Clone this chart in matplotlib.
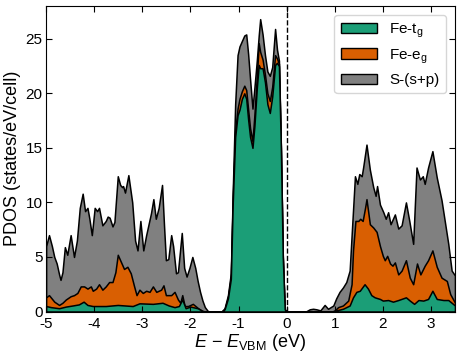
import matplotlib
matplotlib.use("Agg")
from matplotlib import pyplot as plt
from matplotlib.patches import Patch

# fonts
plt.rcParams['font.family'] = ['Liberation Sans', 'DejaVu Sans']
plt.rcParams['mathtext.fontset'] = 'custom'
plt.rcParams['mathtext.rm'] = 'Liberation Sans'
plt.rcParams['mathtext.it'] = 'Liberation Sans:italic'
plt.rcParams['axes.unicode_minus'] = False

# stacked PDOS (cumulative tops)
# S-(s+p) top = total
e_total = [-5.0, -4.94, -4.88, -4.83, -4.78, -4.73, -4.70, -4.66, -4.61, -4.56, -4.49, -4.42,
           -4.36, -4.30, -4.24, -4.19, -4.14, -4.10, -4.05, -3.99, -3.94, -3.90, -3.83, -3.76,
           -3.72, -3.68, -3.62, -3.58, -3.51, -3.46, -3.42, -3.40, -3.36, -3.29, -3.21, -3.15,
           -3.10, -3.04, -2.98, -2.92, -2.87, -2.82, -2.77, -2.72, -2.66, -2.59, -2.55, -2.51,
           -2.46, -2.40, -2.36, -2.30, -2.26, -2.18, -2.13, -2.08, -2.02, -1.96, -1.90, -1.85,
           -1.80, -1.75, -1.70, -1.64, -1.60,
           -1.35, -1.29, -1.22, -1.16, -1.12, -1.07, -1.02, -0.98, -0.93, -0.88, -0.84, -0.80,
           -0.76, -0.71, -0.67, -0.62, -0.58, -0.55, -0.50, -0.45, -0.40, -0.35, -0.30, -0.24,
           -0.20, -0.16, -0.12, -0.08, -0.04, 0.0,
           0.40, 0.48, 0.55, 0.62, 0.70, 0.79, 0.86, 0.97, 1.03, 1.10, 1.17, 1.24, 1.31, 1.36,
           1.42, 1.47, 1.51, 1.56, 1.59, 1.66, 1.73, 1.80, 1.85, 1.88, 1.94, 2.01, 2.06, 2.11,
           2.16, 2.25, 2.32, 2.39, 2.48, 2.55, 2.63, 2.70, 2.77, 2.83, 2.87, 2.94, 3.03, 3.12,
           3.22, 3.29, 3.36, 3.43, 3.50]
total = [6.0, 7.0, 6.0, 5.0, 4.4, 3.4, 2.9, 3.6, 5.9, 5.2, 7.0, 5.0,
         6.5, 9.5, 10.8, 9.2, 9.5, 8.5, 7.0, 9.5, 9.2, 9.5, 7.9, 8.3,
         8.7, 8.6, 7.8, 8.2, 12.4, 11.6, 11.4, 11.5, 10.9, 12.5, 10.0, 6.5,
         5.6, 8.3, 5.6, 7.0, 8.0, 9.0, 10.3, 8.5, 9.5, 11.6, 8.0, 4.7,
         4.8, 7.0, 6.0, 3.5, 3.6, 7.2, 4.0, 3.2, 4.0, 5.0, 4.0, 2.8,
         1.8, 1.0, 0.4, 0.05, 0.0,
         0.0, 0.3, 1.5, 3.5, 11.0, 19.0, 23.5, 24.3, 24.8, 25.3, 25.4, 23.6,
         21.3, 18.6, 20.5, 23.0, 25.3, 26.8, 25.4, 23.5, 22.0, 21.6, 22.4, 25.9,
         24.0, 23.0, 15.2, 5.1, 0.2, 0.0,
         0.0, 0.2, 0.25, 0.2, 0.1, 0.6, 0.25, 0.55, 1.2, 1.8, 2.2, 2.7, 3.75, 7.7,
         12.4, 11.7, 12.6, 12.4, 13.2, 15.3, 13.0, 11.4, 10.6, 11.5, 9.8, 9.1, 8.5, 9.1,
         8.0, 8.9, 7.6, 7.9, 10.0, 8.3, 6.2, 13.2, 12.1, 12.4, 11.7, 13.2, 14.7, 12.3,
         10.2, 8.2, 6.2, 3.75, 3.3]

# Fe-eg top = t_g + e_g
e_fe = [-5.0, -4.94, -4.83, -4.73, -4.66, -4.59, -4.49, -4.42, -4.35, -4.28, -4.21, -4.14,
        -4.07, -4.03, -3.96, -3.90, -3.83, -3.76, -3.69, -3.62, -3.56, -3.51, -3.44, -3.38,
        -3.31, -3.24, -3.17, -3.12, -3.06, -2.99, -2.92, -2.85, -2.78, -2.71, -2.61, -2.56,
        -2.51, -2.40, -2.33, -2.26, -2.21, -2.17, -2.12, -2.05, -1.95, -1.84, -1.75, -1.70,
        -1.35, -1.29, -1.22, -1.16, -1.12, -1.07, -1.02, -0.98, -0.93, -0.88, -0.84, -0.80,
        -0.76, -0.71, -0.67, -0.62, -0.58, -0.55, -0.50, -0.45, -0.40, -0.35, -0.30, -0.24,
        -0.20, -0.16, -0.12, -0.08, -0.04, 0.0,
        0.95, 1.00, 1.07, 1.17, 1.28, 1.35, 1.38, 1.43, 1.49, 1.53, 1.58, 1.63, 1.66, 1.73,
        1.80, 1.87, 1.94, 2.00, 2.04, 2.09, 2.15, 2.20, 2.25, 2.32, 2.39, 2.48, 2.56, 2.63,
        2.71, 2.78, 2.87, 2.94, 3.03, 3.12, 3.22, 3.33, 3.40, 3.50]
fe_eg = [1.3, 1.5, 0.9, 0.6, 0.8, 1.1, 1.4, 1.5, 1.7, 2.3, 2.3, 2.1,
         2.3, 1.9, 2.1, 2.5, 2.0, 2.3, 2.7, 2.7, 3.6, 5.2, 4.5, 3.9,
         4.1, 3.5, 2.3, 1.5, 2.0, 1.7, 1.9, 1.8, 2.3, 1.8, 2.0, 2.4,
         1.5, 1.5, 1.8, 1.1, 0.8, 1.5, 0.5, 0.5, 0.7, 0.3, 0.05, 0.0,
         0.0, 0.2, 1.3, 3.2, 10.5, 16.5, 18.6, 19.5, 20.2, 20.7, 20.3, 18.5,
         16.8, 15.6, 18.0, 21.5, 24.6, 23.8, 23.1, 21.7, 20.0, 19.3, 20.6, 23.5,
         23.2, 22.7, 15.0, 5.0, 0.2, 0.0,
         0.0, 0.1, 0.4, 0.55, 1.0, 2.5, 5.6, 8.3, 8.3, 8.5, 8.3, 9.5, 10.3, 8.0,
         7.7, 7.3, 6.0, 5.1, 4.7, 5.1, 4.4, 4.2, 4.5, 3.4, 3.75, 4.7, 3.1, 2.5,
         4.4, 3.4, 4.2, 4.7, 5.6, 4.1, 3.1, 2.8, 1.6, 0.8]

# Fe-tg
e_tg = [-5.0, -4.90, -4.73, -4.59, -4.45, -4.32, -4.22, -4.14, -4.03, -3.76, -3.51, -3.20,
        -3.06, -2.78, -2.58, -2.45, -2.33, -2.24, -2.17, -2.10, -2.00, -1.85, -1.75, -1.70,
        -1.35, -1.29, -1.22, -1.16, -1.12, -1.07, -1.02, -0.98, -0.93, -0.88, -0.84, -0.80,
        -0.76, -0.71, -0.67, -0.62, -0.58, -0.55, -0.50, -0.45, -0.40, -0.35, -0.30, -0.24,
        -0.20, -0.16, -0.12, -0.08, -0.04, 0.0,
        0.95, 1.03, 1.17, 1.31, 1.38, 1.45, 1.52, 1.62, 1.69, 1.76, 1.83, 1.94, 2.00, 2.11,
        2.21, 2.32, 2.48, 2.56, 2.65, 2.74, 2.84, 2.94, 3.03, 3.12, 3.26, 3.36, 3.50]
fe_tg = [0.5, 0.4, 0.3, 0.45, 0.55, 0.65, 0.9, 0.6, 0.5, 0.5, 0.6, 0.5,
         0.75, 0.7, 0.8, 0.55, 0.4, 0.5, 1.1, 0.3, 0.45, 0.3, 0.05, 0.0,
         0.0, 0.2, 1.2, 3.0, 10.0, 16.0, 18.0, 18.5, 19.5, 20.0, 19.5, 17.6,
         16.0, 15.0, 17.0, 20.5, 22.6, 22.3, 22.3, 21.0, 19.0, 18.2, 19.7, 22.6,
         22.8, 22.5, 15.0, 5.0, 0.2, 0.0,
         0.0, 0.1, 0.25, 0.55, 1.3, 1.8, 1.9, 2.5, 2.1, 1.5, 1.3, 1.15, 1.0, 1.05,
         0.9, 1.05, 1.3, 1.0, 0.7, 1.05, 1.0, 1.15, 1.9, 1.15, 1.05, 1.05, 0.55]

labels = ["Fe-t$_{\\mathrm{g}}$", "Fe-e$_{\\mathrm{g}}$", "S-(s+p)"]
colors = ["#1b9e77", "#d95f02", "#808080"]
xticks = list(range(-5, 4))
yticks = list(range(0, 30, 5))

fig = plt.figure(figsize=(4.61, 3.56), dpi=100)
ax = fig.add_axes([0.100, 0.125, 0.887, 0.858])

# draw back to front so each layer sits on the previous one
ax.fill_between(e_total, 0, total, facecolor=colors[2], edgecolor="black", linewidth=1.1)
ax.fill_between(e_fe, 0, fe_eg, facecolor=colors[1], edgecolor="black", linewidth=1.1)
ax.fill_between(e_tg, 0, fe_tg, facecolor=colors[0], edgecolor="black", linewidth=1.1)

ax.axvline(0, color="black", linestyle="--", linewidth=1.0)

ax.set_xlim(-5, 3.5)
ax.set_ylim(0, 28)
ax.set_xticks(xticks)
ax.set_xticklabels([str(i) for i in xticks])
ax.set_yticks(yticks)
ax.tick_params(direction="in", top=True, right=True, labelsize=11, length=4)
ax.tick_params(axis="x", pad=4)
ax.tick_params(axis="y", pad=2.5)

ax.set_xlabel("$E$ $-$ $E_{\\mathrm{VBM}}$ (eV)", fontsize=13, labelpad=1)
ax.set_ylabel("PDOS (states/eV/cell)", fontsize=13, labelpad=3)

handles = [Patch(facecolor=c, edgecolor="black") for c in colors]
ax.legend(handles, labels, loc="upper right", fontsize=11, handlelength=2.4,
          borderaxespad=0.6)

fig.savefig("out.png", dpi=100)
